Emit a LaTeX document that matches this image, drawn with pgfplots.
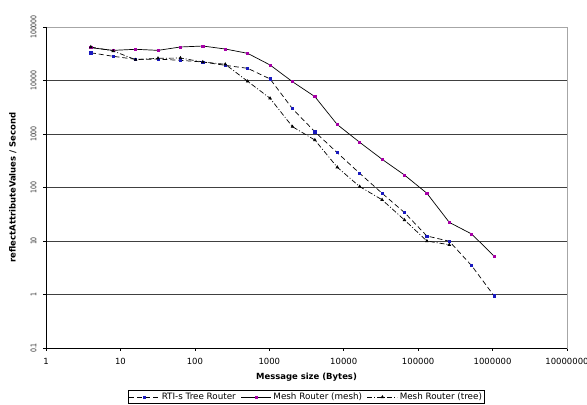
\documentclass[border=0pt]{standalone}
\usepackage{pgfplots}
\pgfplotsset{compat=1.18}
\usepackage{fontspec}
\setmainfont{DejaVu Sans}
\newfontfamily\narrowfont[FakeStretch=0.8]{DejaVu Sans}
\definecolor{meshmark}{rgb}{0.65,0,0.65}
\definecolor{rtimark}{rgb}{0.1,0.1,0.75}
\begin{document}
\begin{tikzpicture}
\useasboundingbox (0,0) rectangle (587bp,405bp);
\begin{axis}[
  at={(46bp,57bp)}, anchor=south west,
  scale only axis, width=521bp, height=321bp,
  xmode=log, ymode=log,
  xmin=1, xmax=1e7, ymin=0.1, ymax=1e5,
  xtick={1,10,100,1000,10000,100000,1000000,10000000},
  xticklabels={1,10,100,1000,10000,100000,1000000,10000000},
  ytick={0.1,1,10,100,1000,10000,100000},
  yticklabels={0.1,1,10,100,1000,10000,100000},
  xminorticks=false, yminorticks=false,
  xtick pos=bottom, ytick pos=left,
  tick align=outside, major tick length=3bp,
  tick style={black, line width=0.6pt},
  ymajorgrids, major grid style={black!75, line width=0.7pt},
  axis line style={gray!70, line width=0.7pt},
  xticklabel style={font=\fontsize{8.5}{10}\selectfont, yshift=-3.5bp},
  yticklabel style={font=\narrowfont\fontsize{7.8}{9}\selectfont, text=black!80, rotate=90, anchor=south, yshift=3bp},
  xlabel={\bfseries Message size (Bytes)},
  ylabel={\bfseries reflectAttributeValues / Second},
  label style={font=\fontsize{8.5}{10}\selectfont},
  xlabel style={at={(rel axis cs:0.5,0)}, anchor=center, yshift=-29bp},
  ylabel style={at={(rel axis cs:0,0.5)}, anchor=south, yshift=26bp},
  legend columns=3,
  legend style={at={(0.5,-0.1745)}, anchor=south, draw=black, line width=0.6pt,
    font=\fontsize{8.8}{10}\selectfont, inner sep=0.5pt,
    /tikz/every even column/.append style={column sep=3bp}},
  legend image code/.code={\draw[mark repeat=2,mark phase=2,#1] plot coordinates {(0bp,0bp) (15bp,0bp) (30bp,0bp)};},
]
\draw[black, line width=0.8pt] (rel axis cs:0,1) -- (rel axis cs:0,0) -- (rel axis cs:1,0);
\addplot[black, line width=0.7pt, dash pattern=on 5bp off 3bp,
  mark=square*, mark size=1.1bp, mark options={solid, fill=rtimark, draw=rtimark}]
coordinates {
(4,33000) (8,28300) (16,24900) (32,25100) (64,23800) (128,22200) (256,19200) (512,16900)
(1024,10700) (2048,2970) (4096,1100) (8192,447) (16384,184) (32768,78) (65536,34)
(131072,12.4) (262144,9.9) (524288,3.45) (1048576,0.94)
};
\addlegendentry{RTI-s Tree Router}
\addplot[black, line width=0.7pt, solid,
  mark=square*, mark size=1.1bp, mark options={solid, fill=meshmark, draw=meshmark}]
coordinates {
(4,41000) (8,36600) (16,38300) (32,36600) (64,42300) (128,44100) (256,38800) (512,32200)
(1024,19500) (2048,9500) (4096,5000) (8192,1500) (16384,700) (32768,337) (65536,171)
(131072,78) (262144,22.3) (524288,13.5) (1048576,5.2)
};
\addlegendentry{Mesh Router (mesh)}
\addplot[black, line width=0.7pt, dash pattern=on 5bp off 2bp on 1bp off 2bp,
  mark=triangle*, mark size=1.4bp, mark options={solid, fill=black}]
coordinates {
(4,42300) (8,35600) (16,24500) (32,26000) (64,26300) (128,22200) (256,20100) (512,9660)
(1024,4650) (2048,1370) (4096,772) (8192,239) (16384,104) (32768,59) (65536,24.7)
(131072,10) (262144,8.5)
};
\addlegendentry{Mesh Router (tree)}
\end{axis}
\end{tikzpicture}
\end{document}
